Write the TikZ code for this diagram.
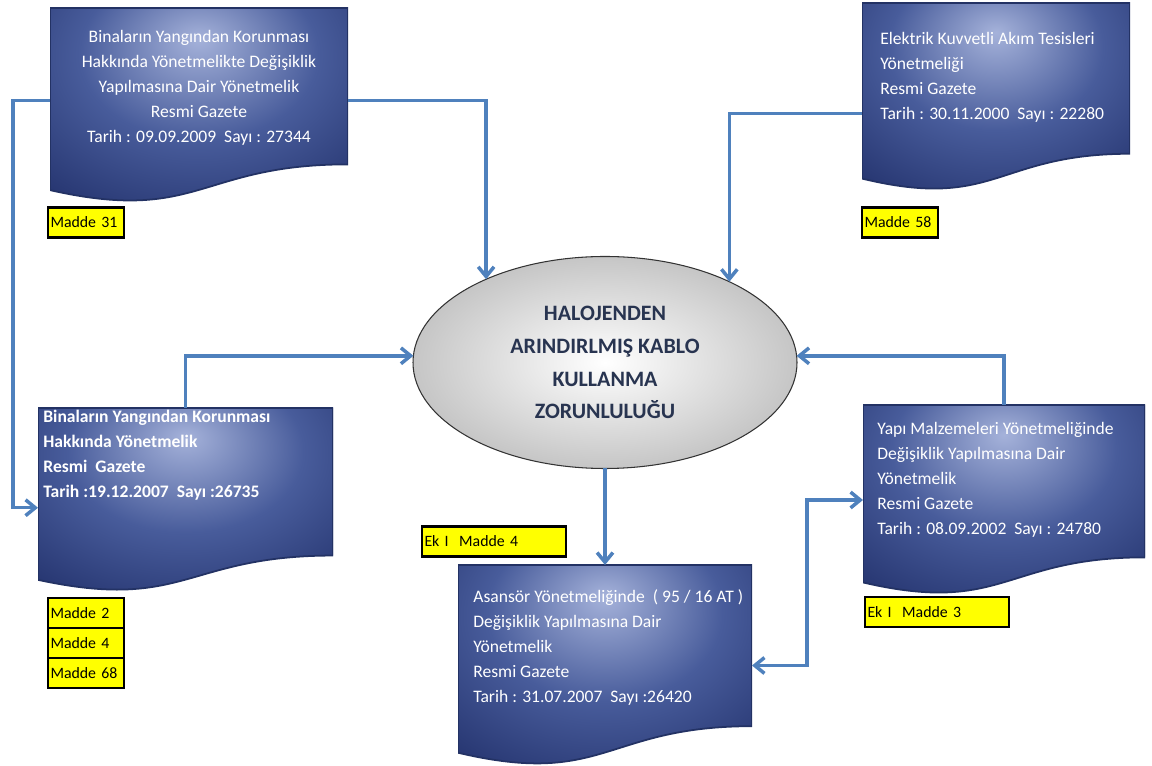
\documentclass[tikz,border=0pt]{standalone}
\usepackage{fontspec}
\setmainfont{Carlito}
\usetikzlibrary{positioning, arrows.meta, shapes.geometric, calc}

\definecolor{okmavi}{RGB}{79,129,189}
\definecolor{belgekoyu}{RGB}{28,42,100}
\definecolor{belgeorta}{RGB}{72,92,155}
\definecolor{belgeacik}{RGB}{165,178,218}
\definecolor{belgecizgi}{RGB}{35,50,100}
\definecolor{elipsyazi}{RGB}{40,52,80}
\definecolor{sari}{RGB}{255,255,0}

\pgfdeclareradialshading{belgegolge}{\pgfpoint{0bp}{18bp}}{%
  color(0bp)=(belgeacik); color(20bp)=(belgeorta); color(44bp)=(belgekoyu); color(100bp)=(belgekoyu)}

\tikzset{
  belge/.style n args={2}{minimum width=#1, minimum height=#2, inner sep=0pt, outer sep=0pt,
    path picture={
      \shade[shading=belgegolge, draw=belgecizgi, line width=1pt]
        (path picture bounding box.north west) -- (path picture bounding box.north east)
        -- ($(path picture bounding box.north east)!0.802!(path picture bounding box.south east)$)
        .. controls ($(path picture bounding box.north)!0.802!(path picture bounding box.south)$)
        and ($(path picture bounding box.north)!1.107!(path picture bounding box.south)$)
        .. ($(path picture bounding box.north west)!0.934!(path picture bounding box.south west)$)
        -- cycle;
    }},
  belgeyazi/.style={text=white, font=\fontsize{10}{14.2}\selectfont, align=left, inner sep=0pt, anchor=west},
  elips/.style={ellipse, draw=black!80, line width=0.6pt, inner color=white, outer color=gray!45,
    minimum width=7.68cm, minimum height=4.24cm, inner sep=0pt, outer sep=0pt,
    text=elipsyazi, font=\fontsize{12.5}{18.7}\selectfont\bfseries, align=center},
  madde/.style={draw=black, line width=1.2pt, fill=sari, text width=#1, align=left,
    inner xsep=1.5pt, inner ysep=0pt, minimum height=0.6cm, outer sep=0pt,
    font=\fontsize{9}{10}\selectfont},
  madde/.default=1.42cm,
  ok/.style={draw=okmavi, line width=2pt, -{Straight Barb[length=5.5pt,width=9pt]}},
  okcift/.style={ok, {Straight Barb[length=5.5pt,width=9pt]}-{Straight Barb[length=5.5pt,width=9pt]}}
}

\begin{document}
\begin{tikzpicture}

\useasboundingbox (0,0) rectangle (23.04,15.3);

% ---------- BELGELER ----------

\node[belge={5.96cm}{3.90cm}] (b1) at (3.98,13.19) {};
\node[belgeyazi, align=center, anchor=center] (b1y) at (3.98,13.55)
  {Binaların Yangından Korunması\\Hakkında Yönetmelikte Değişiklik\\Yapılmasına Dair Yönetmelik\\Resmi Gazete\\Tarih : 09.09.2009 \ Sayı : 27344};

\node[belge={5.36cm}{3.76cm}] (b2) at (19.92,13.36) {};
\node[belgeyazi] (b2y) at (17.60,13.75)
  {Elektrik Kuvvetli Akım Tesisleri\\Yönetmeliği\\Resmi Gazete\\Tarih : 30.11.2000 \ Sayı : 22280};

\node[belge={5.90cm}{3.68cm}] (b3) at (3.71,5.30) {};
\node[belgeyazi, font=\fontsize{10}{14.2}\selectfont\bfseries] (b3y) at (0.86,6.19)
  {Binaların Yangından Korunması\\Hakkında Yönetmelik\\Resmi \ Gazete\\Tarih :19.12.2007 \ Sayı :26735};

\node[belge={5.88cm}{4.02cm}] (b4) at (12.10,1.99) {};
\node[belgeyazi] (b4y) at (9.46,2.35)
  {Asansör Yönetmeliğinde \ ( 95 / 16 AT )\\Değişiklik Yapılmasına Dair\\Yönetmelik\\Resmi Gazete\\Tarih : 31.07.2007 \ Sayı :26420};

\node[belge={5.64cm}{3.80cm}] (b5) at (20.08,5.30) {};
\node[belgeyazi] (b5y) at (17.54,5.70)
  {Yapı Malzemeleri Yönetmeliğinde\\Değişiklik Yapılmasına Dair\\Yönetmelik\\Resmi Gazete\\Tarih : 08.09.2002 \ Sayı : 24780};

% ---------- ORTA ----------

\node[elips] (elips) at (12.10,8.05) {HALOJENDEN\\ARINDIRLMIŞ KABLO\\KULLANMA\\ZORUNLULUĞU};

% ---------- MADDELER ----------

\node[madde] (m31) at (1.72,10.85) {Madde 31};
\node[madde] (m58) at (18.00,10.85) {Madde 58};
\node[madde] (m2) at (1.72,3.04) {Madde 2};
\node[madde, below=0pt of m2] (m4) {Madde 4};
\node[madde, below=0pt of m4] (m68) {Madde 68};
\node[madde=2.78cm] (ek4) at (9.88,4.47) {Ek I \ Madde 4};
\node[madde=2.78cm] (ek3) at (18.74,3.06) {Ek I \ Madde 3};

% ---------- OKLAR ----------

\draw[ok] (b1.2) -| (elips.145.8);
\draw[ok] (b1.178) -- ++(-0.74,0) |- (b3.183);
\draw[ok] (b2.187) -| (elips.33.7);
\draw[ok] (b3.north) |- (elips.178);
\draw[ok] (b5.north) |- (elips.2);
\draw[ok] (elips.south) -- (b4.north);
\draw[okcift] (b4.east) -- ++(1.1,0) |- (b5.west);

\end{tikzpicture}
\end{document}
